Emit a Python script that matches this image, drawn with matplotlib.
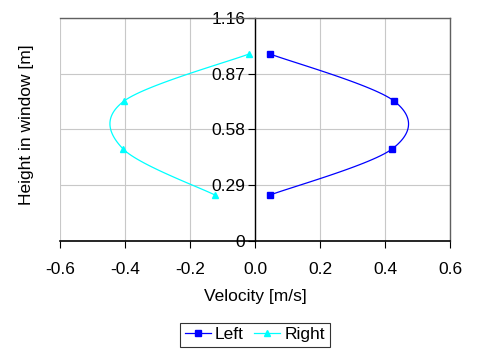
import matplotlib
matplotlib.use('Agg')
import matplotlib.pyplot as plt
import numpy as np

plt.rcParams['font.family'] = ['Liberation Sans', 'DejaVu Sans']

# data
height = [0.973, 0.728, 0.479, 0.239]
left_vel = [0.046, 0.428, 0.422, 0.046]
right_vel = [-0.018, -0.403, -0.406, -0.123]
y_ticks = [0, 0.29, 0.58, 0.87, 1.16]
x_ticks = [-0.6, -0.4, -0.2, 0.0, 0.2, 0.4, 0.6]


def smooth(xs, ys, n=30):
  """ Excel-like smoothed line through the points (bezier, tension 1/6) """
  p = np.column_stack([xs, ys]).astype(float)
  out = []
  for i in range(len(p) - 1):
    p0 = p[i - 1] if i > 0 else p[i]
    p3 = p[i + 2] if i + 2 < len(p) else p[i + 1]
    c1 = p[i] + (p[i + 1] - p0) / 6.
    c2 = p[i + 1] - (p3 - p[i]) / 6.
    t = np.linspace(0, 1, n)[:, None]
    seg = (1-t)**3*p[i] + 3*(1-t)**2*t*c1 + 3*(1-t)*t**2*c2 + t**3*p[i+1]
    out.append(seg)
  out = np.vstack(out)
  return out[:, 0], out[:, 1]


fig = plt.figure(figsize=(4.8, 3.49), dpi=100)
ax = fig.add_axes([60/480., 1 - 241/349., 390/480., 223/349.])

sx, sy = smooth(left_vel, height)
ax.plot(sx, sy, color='#0000ff', linewidth=0.9)
ax.plot(left_vel, height, linestyle='none', marker='s', markersize=5, color='#0000ff')
rx, ry = smooth(right_vel, height)
ax.plot(rx, ry, color='#00ffff', linewidth=0.9)
ax.plot(right_vel, height, linestyle='none', marker='^', markersize=5, color='#00ffff')

# legend entries (line + marker)
h1, = ax.plot([], [], color='#0000ff', marker='s', markersize=5, linewidth=0.9)
h2, = ax.plot([], [], color='#00ffff', marker='^', markersize=5, linewidth=0.9)

fs = 12.5
ax.set_xlim(-0.6, 0.6)
ax.set_ylim(0, 1.16)
ax.set_xticks(x_ticks)
ax.set_xticklabels(['%.1f' % v for v in x_ticks])
ax.set_yticks(y_ticks)
ax.set_yticklabels(['0', '0.29', '0.58', '0.87', '1.16'])

ax.spines['left'].set_position(('data', 0))
ax.spines['left'].set_color('black')
ax.spines['bottom'].set_color('black')
ax.spines['bottom'].set_linewidth(1.2)
ax.spines['left'].set_linewidth(1.0)
for s in ['top', 'right']:
  ax.spines[s].set_color('#606060')
  ax.spines[s].set_linewidth(1.0)

ax.tick_params(axis='both', labelsize=fs, length=5, direction='out', pad=2)
ax.tick_params(axis='x', pad=10)
ax.grid(color='#c8c8c8', linewidth=0.8)
ax.set_axisbelow(True)

ax.set_xlabel('Velocity [m/s]', fontsize=fs, labelpad=9)
fig.text(27/480., 1 - 125/349., 'Height in window [m]', rotation=90,
         ha='center', va='center', fontsize=fs)

leg = fig.legend([h1, h2], ['Left', 'Right'], loc='upper center',
                 bbox_to_anchor=(255/480., 1 - 323/349.), ncol=2, fontsize=fs,
                 frameon=True, fancybox=False, handlelength=1.5,
                 handletextpad=0.25, columnspacing=0.6, borderpad=0.25,
                 borderaxespad=0)
leg.get_frame().set_edgecolor('black')
leg.get_frame().set_linewidth(0.8)

plt.savefig('out.png', dpi=100)
plt.close()
